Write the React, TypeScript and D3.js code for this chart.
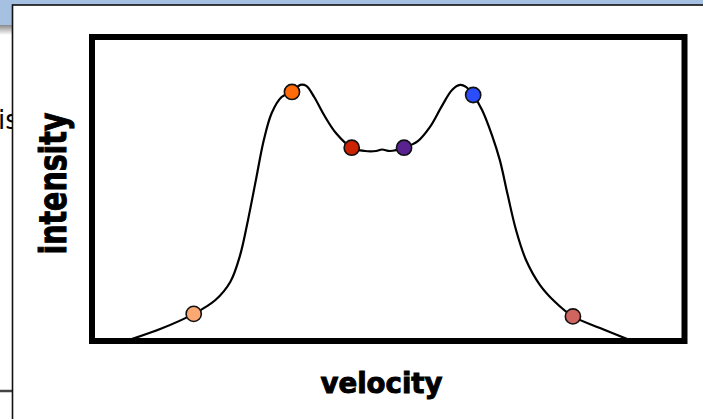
import React from "react";
import * as d3 from "d3";

// velocity (km/s) and intensity samples of the line profile
const curveVelocity = [-266, -231, -197, -175, -160, -150, -142, -134, -126, -118, -108, -97.5, -89, -83, -75, -65, -53, -37, -23.5, -12.4, -6.3, 1.8, 16, 30, 42.3, 54.4, 64.6, 72.7, 78.7, 86, 95, 105, 113, 121, 129.4, 139.5, 153.7, 169, 187, 214.4, 247];
const curveIntensity = [0, 0.047, 0.107, 0.162, 0.233, 0.339, 0.478, 0.636, 0.793, 0.9, 0.963, 0.983, 1.011, 1.007, 0.963, 0.892, 0.821, 0.763, 0.75, 0.75, 0.756, 0.75, 0.763, 0.789, 0.845, 0.928, 0.991, 1.011, 1.003, 0.971, 0.912, 0.813, 0.714, 0.576, 0.438, 0.32, 0.221, 0.154, 0.097, 0.051, 0];

// highlighted points
const dotVelocity = [-197, -97.5, -37, 16, 86, 187];
const dotIntensity = [0.107, 0.983, 0.763, 0.763, 0.971, 0.097];
const dotColors = ["#fca873", "#ff6a0a", "#cc2200", "#5a2190", "#2b4dfb", "#d0645e"];

const xLabel = "velocity";
const yLabel = "intensity";

export default function App() {
  const W = 703, H = 419;
  const left = 92, right = 684.5, top = 37, bottom = 341;
  const x = d3.scaleLinear().domain([-300, 300]).range([left, right]);
  const y = d3.scaleLinear().domain([0, 1.2]).range([bottom, top]);
  const pts = curveVelocity.map((v, i) => [v, curveIntensity[i]] as [number, number]);
  const line = d3
    .line<[number, number]>()
    .x((d) => x(d[0]))
    .y((d) => y(d[1]))
    .curve(d3.curveCatmullRom.alpha(0.5));
  const path = line(pts) || "";

  return (
    <svg
      width={W}
      height={H}
      viewBox={`0 0 ${W} ${H}`}
      style={{ position: "absolute", left: 0, top: 0, display: "block" }}
    >
      <defs>
        <linearGradient id="fade" x1="0" y1="0" x2="0" y2="1">
          <stop offset="0" stopColor="#8a8a8a" />
          <stop offset="1" stopColor="#ffffff" />
        </linearGradient>
        <clipPath id="plotClip">
          <rect x={left + 3} y={top + 3} width={right - left - 6} height={bottom - top - 6} />
        </clipPath>
      </defs>
      <rect x={0} y={0} width={W} height={H} fill="#ffffff" />
      <rect x={0} y={0} width={W} height={25} fill="#a6c0e2" />
      <rect x={0} y={25} width={W} height={10} fill="url(#fade)" />
      <text x={-2} y={129} fontFamily="'DejaVu Sans', sans-serif" fontSize={26} fill="#000">
        is
      </text>
      <line x1={0} x2={14} y1={391} y2={391} stroke="#444" strokeWidth={2.5} />
      {/* panel */}
      <rect x={12.5} y={5} width={W} height={H} fill="#ffffff" stroke="#111" strokeWidth={1.6} />
      {/* curve */}
      <g clipPath="url(#plotClip)">
        <path d={path} fill="none" stroke="#000" strokeWidth={2.2} />
      </g>
      {dotVelocity.map((v, i) => (
        <circle
          key={i}
          cx={x(v)}
          cy={y(dotIntensity[i])}
          r={7.6}
          fill={dotColors[i]}
          stroke="#111"
          strokeWidth={1.6}
        />
      ))}
      {/* frame */}
      <rect
        x={left}
        y={top}
        width={right - left}
        height={bottom - top}
        fill="none"
        stroke="#000"
        strokeWidth={6}
      />
      <text
        x={381.5}
        y={393}
        textAnchor="middle"
        fontFamily="'DejaVu Sans Condensed', 'DejaVu Sans', sans-serif"
        fontWeight="bold"
        fontSize={28}
        textLength={122}
        lengthAdjust="spacingAndGlyphs"
        fill="#000"
        stroke="#000"
        strokeWidth={0.9}
      >
        {xLabel}
      </text>
      <text
        transform="translate(66,183.5) rotate(-90)"
        textAnchor="middle"
        fontFamily="'DejaVu Sans Condensed', 'DejaVu Sans', sans-serif"
        fontWeight="bold"
        fontSize={38}
        textLength={142}
        lengthAdjust="spacingAndGlyphs"
        fill="#000"
        stroke="#000"
        strokeWidth={1}
      >
        {yLabel}
      </text>
    </svg>
  );
}
